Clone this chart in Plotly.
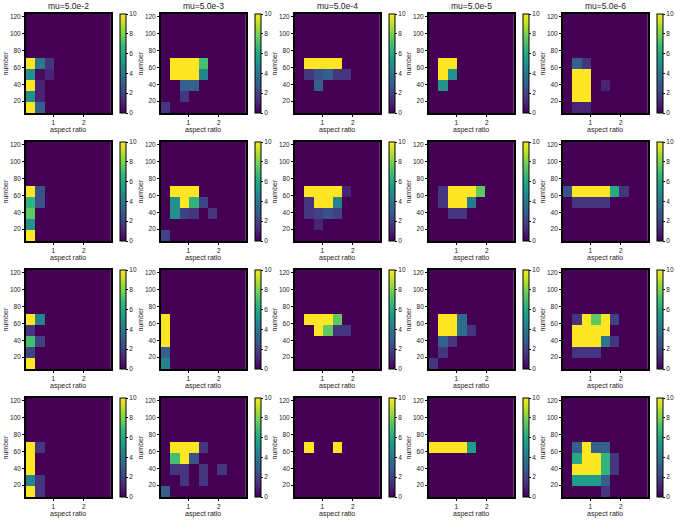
import plotly.graph_objects as go

# ---- data (rows listed bottom -> top, only lowest 5 number-bins; higher bins are empty) ----
titles = ["mu=5.0e-2", "mu=5.0e-3", "mu=5.0e-4", "mu=5.0e-5", "mu=5.0e-6"]
x_title = "aspect ratio"
y_title = "number"
x_tick_vals = [1, 2]
y_tick_vals = [20, 40, 60, 80, 100, 120]
cbar_ticks = [0, 2, 4, 6, 8, 10]
x_lo, x_hi, n_x = 0.1, 2.9, 9
y_lo, y_hi, n_y = 6, 123, 9

r1c1 = [[10, 3, 0, 0, 0, 0, 0, 0, 0],
        [5, 1, 0, 0, 0, 0, 0, 0, 0],
        [10, 1, 0, 0, 0, 0, 0, 0, 0],
        [5, 0.3, 1, 0, 0, 0, 0, 0, 0],
        [10, 4, 1.5, 0, 0, 0, 0, 0, 0]]
r1c2 = [[1.5, 0, 0, 0, 0, 0, 0, 0, 0],
        [0, 0, 1.5, 0, 0, 0, 0, 0, 0],
        [0, 0, 3, 3, 0, 0, 0, 0, 0],
        [0, 10, 10, 10, 4.5, 0, 0, 0, 0],
        [0, 10, 10, 10, 7, 0, 0, 0, 0]]
r1c3 = [[0, 0, 0, 0, 0, 0, 0, 0, 0],
        [0, 0, 0, 0, 0, 0, 0, 0, 0],
        [0, 0, 3, 0, 0, 0, 0, 0, 0],
        [0, 1.5, 2.5, 3, 1.5, 1.5, 0, 0, 0],
        [0, 10, 10, 10, 10, 0, 0, 0, 0]]
r1c4 = [[0, 0, 0, 0, 0, 0, 0, 0, 0],
        [0, 0, 0, 0, 0, 0, 0, 0, 0],
        [0, 5, 0, 0, 0, 0, 0, 0, 0],
        [0, 10, 5, 0, 0, 0, 0, 0, 0],
        [0, 10, 10, 0, 0, 0, 0, 0, 0]]
r1c5 = [[0, 1, 1, 0, 0, 0, 0, 0, 0],
        [0, 10, 10, 0, 0, 0, 0, 0, 0],
        [0, 10, 10, 0, 1, 0, 0, 0, 0],
        [0, 10, 10, 0, 0, 0, 0, 0, 0],
        [0, 3, 1.5, 0, 0, 0, 0, 0, 0]]

r2c1 = [[10, 0, 0, 0, 0, 0, 0, 0, 0],
        [5, 0, 0, 0, 0, 0, 0, 0, 0],
        [7.5, 0, 0, 0, 0, 0, 0, 0, 0],
        [6.5, 2.5, 0, 0, 0, 0, 0, 0, 0],
        [10, 2.5, 0, 0, 0, 0, 0, 0, 0]]
r2c2 = [[2, 0, 0, 0, 0, 0, 0, 0, 0],
        [0, 0, 0, 0, 0, 0, 0, 0, 0],
        [0, 5, 2, 1.5, 0, 1.5, 0, 0, 0],
        [0, 5, 10, 6.5, 2, 0, 0, 0, 0],
        [0, 10, 10, 10, 0, 0, 0, 0, 0]]
r2c3 = [[0, 0, 0, 0, 0, 0, 0, 0, 0],
        [0, 0, 1, 0, 0, 0, 0, 0, 0],
        [0, 1.5, 2, 2.5, 2, 0, 0, 0, 0],
        [0, 1.5, 10, 10, 4.5, 0, 0, 0, 0],
        [0, 10, 10, 10, 10, 1, 0, 0, 0]]
r2c4 = [[0, 0, 0, 0, 0, 0, 0, 0, 0],
        [0, 0, 0, 0, 0, 0, 0, 0, 0],
        [0, 0, 1.5, 1.5, 0, 0, 0, 0, 0],
        [0, 1.5, 10, 10, 4, 0, 0, 0, 0],
        [0, 1.5, 10, 10, 10, 7.5, 0, 0, 0]]
r2c5 = [[0, 0, 0, 0, 0, 0, 0, 0, 0],
        [0, 0, 0, 0, 0, 0, 0, 0, 0],
        [0, 0, 0, 0, 0, 0, 0, 0, 0],
        [0, 1.5, 1.5, 1.5, 1.5, 0, 0, 0, 0],
        [2.5, 10, 10, 10, 10, 6, 1.5, 0, 0]]

r3c1 = [[10, 0, 0, 0, 0, 0, 0, 0, 0],
        [2, 0, 0, 0, 0, 0, 0, 0, 0],
        [7, 2, 0, 0, 0, 0, 0, 0, 0],
        [1.5, 0, 0, 0, 0, 0, 0, 0, 0],
        [10, 4.5, 0, 0, 0, 0, 0, 0, 0]]
r3c2 = [[4.5, 0, 0, 0, 0, 0, 0, 0, 0],
        [3, 0, 0, 0, 0, 0, 0, 0, 0],
        [10, 0, 0, 0, 0, 0, 0, 0, 0],
        [10, 0, 0, 0, 0, 0, 0, 0, 0],
        [10, 0, 0, 0, 0, 0, 0, 0, 0]]
r3c3 = [[0, 0, 0, 0, 0, 0, 0, 0, 0],
        [0, 0, 0, 0, 0, 0, 0, 0, 0],
        [0, 0, 0, 0, 0, 0, 0, 0, 0],
        [0, 0, 10, 7.5, 1.5, 1.5, 0, 0, 0],
        [0, 10, 10, 10, 7.5, 0, 0, 0, 0]]
r3c4 = [[1.5, 0, 0, 0, 0, 0, 0, 0, 0],
        [0, 1.5, 0, 0, 0, 0, 0, 0, 0],
        [0, 3, 1.5, 0, 0, 0, 0, 0, 0],
        [0, 10, 10, 3.5, 1.5, 0, 0, 0, 0],
        [0, 10, 10, 3.5, 0, 0, 0, 0, 0]]
r3c5 = [[0, 0, 0, 0, 0, 0, 0, 0, 0],
        [0, 1.5, 1.5, 1.5, 0, 0, 0, 0, 0],
        [0, 10, 10, 10, 4, 1.5, 0, 0, 0],
        [0, 10, 10, 10, 10, 0, 0, 0, 0],
        [0, 1.5, 10, 7.5, 10, 2, 0, 0, 0]]

r4c1 = [[10, 1.5, 0, 0, 0, 0, 0, 0, 0],
        [4.5, 1.5, 0, 0, 0, 0, 0, 0, 0],
        [10, 0, 0, 0, 0, 0, 0, 0, 0],
        [10, 0, 0, 0, 0, 0, 0, 0, 0],
        [10, 1.5, 0, 0, 0, 0, 0, 0, 0]]
r4c2 = [[3, 0, 0, 0, 0, 0, 0, 0, 0],
        [0, 0, 1.5, 0, 1.5, 0, 0, 0, 0],
        [0, 1.5, 1.5, 0, 1.5, 0, 1.5, 0, 0],
        [0, 7, 10, 2.5, 0, 0, 0, 0, 0],
        [0, 10, 10, 10, 1.5, 0, 0, 0, 0]]
r4c3 = [[0, 0, 0, 0, 0, 0, 0, 0, 0],
        [0, 0, 0, 0, 0, 0, 0, 0, 0],
        [0, 0, 0, 0, 0, 0, 0, 0, 0],
        [0, 0, 0, 0, 0, 0, 0, 0, 0],
        [0, 10, 0, 0, 10, 0, 0, 0, 0]]
r4c4 = [[0, 0, 0, 0, 0, 0, 0, 0, 0],
        [0, 0, 0, 0, 0, 0, 0, 0, 0],
        [0, 0, 0, 0, 0, 0, 0, 0, 0],
        [0, 0, 0, 0, 0, 0, 0, 0, 0],
        [10, 10, 10, 10, 5.5, 0, 0, 0, 0]]
r4c5 = [[0, 0, 0, 0, 1.5, 0, 0, 0, 0],
        [0, 5.5, 5.5, 5.5, 3, 0, 0, 0, 0],
        [0, 10, 10, 10, 6.5, 1.5, 0, 0, 0],
        [0, 6, 10, 10, 6.5, 1.5, 0, 0, 0],
        [0, 3, 10, 3, 3, 0, 0, 0, 0]]

panels = [[r1c1, r1c2, r1c3, r1c4, r1c5],
          [r2c1, r2c2, r2c3, r2c4, r2c5],
          [r3c1, r3c2, r3c3, r3c4, r3c5],
          [r4c1, r4c2, r4c3, r4c4, r4c5]]

# ---- layout geometry (pixels) ----
W, H = 675, 521
lefts = [26, 162, 297, 432, 567]
tops = [14, 142, 270, 398]
pw, ph = 86, 99

x_edges = [x_lo + (x_hi - x_lo) * k / n_x for k in range(n_x + 1)]
y_edges = [y_lo + (y_hi - y_lo) * k / n_y for k in range(n_y + 1)]

FONT = "Liberation Sans, Arial, sans-serif"
TXT = "#222"
TICKF = dict(size=6.5, family=FONT, color=TXT)

fig = go.Figure()
layout = dict(width=W, height=H, margin=dict(l=0, r=0, t=0, b=0),
              paper_bgcolor="white", plot_bgcolor="white",
              font=dict(family=FONT, size=7, color=TXT), showlegend=False)
annotations = []

idx = 0
for ri, row in enumerate(panels):
    for ci, zrows in enumerate(row):
        idx += 1
        sfx = "" if idx == 1 else str(idx)
        z = [list(r) for r in zrows] + [[0] * n_x for _ in range(n_y - len(zrows))]
        l, t = lefts[ci], tops[ri]
        xd = [l / W, (l + pw) / W]
        yd = [1 - (t + ph) / H, 1 - t / H]
        fig.add_trace(go.Heatmap(
            z=z, x=x_edges, y=y_edges, xaxis="x" + sfx, yaxis="y" + sfx,
            colorscale="Viridis", zmin=0, zmax=10, hoverinfo="skip",
            colorbar=dict(
                x=(l + pw + 9) / W, xanchor="left", xref="paper",
                y=(yd[0] + yd[1]) / 2, yanchor="middle", yref="paper",
                len=ph / H, lenmode="fraction", thickness=6,
                outlinewidth=1, outlinecolor="black",
                tickvals=cbar_ticks, ticks="outside", ticklen=2, tickwidth=1,
                tickcolor="black", tickfont=TICKF,
                xpad=0, ypad=0)))
        common = dict(ticks="outside", ticklen=2, tickwidth=1, tickcolor="black",
                      showline=True, mirror=True, linecolor="black", linewidth=1.5,
                      showgrid=False, zeroline=False, tickfont=TICKF)
        layout["xaxis" + sfx] = dict(domain=xd, anchor="y" + sfx, range=[x_lo, x_hi],
                                     tickvals=x_tick_vals, **common)
        layout["yaxis" + sfx] = dict(domain=yd, anchor="x" + sfx, range=[y_lo, y_hi],
                                     tickvals=y_tick_vals, **common)
        annotations.append(dict(
            text=x_title, x=(l + pw / 2) / W, y=1 - (t + ph + 11) / H,
            xref="paper", yref="paper", xanchor="center", yanchor="top",
            showarrow=False, font=dict(size=7, family=FONT, color=TXT)))
        annotations.append(dict(
            text=y_title, x=(l - 20) / W, y=1 - (t + ph / 2) / H, textangle=-90,
            xref="paper", yref="paper", xanchor="center", yanchor="middle",
            showarrow=False, font=dict(size=7, family=FONT, color=TXT)))
        if ri == 0:
            annotations.append(dict(
                text=titles[ci], x=(l + pw / 2) / W, y=1 - (t - 1) / H,
                xref="paper", yref="paper", xanchor="center", yanchor="bottom",
                showarrow=False, font=dict(size=8.5, family=FONT, color=TXT)))

layout["annotations"] = annotations
fig.update_layout(**layout)
fig.write_html("out.html")
